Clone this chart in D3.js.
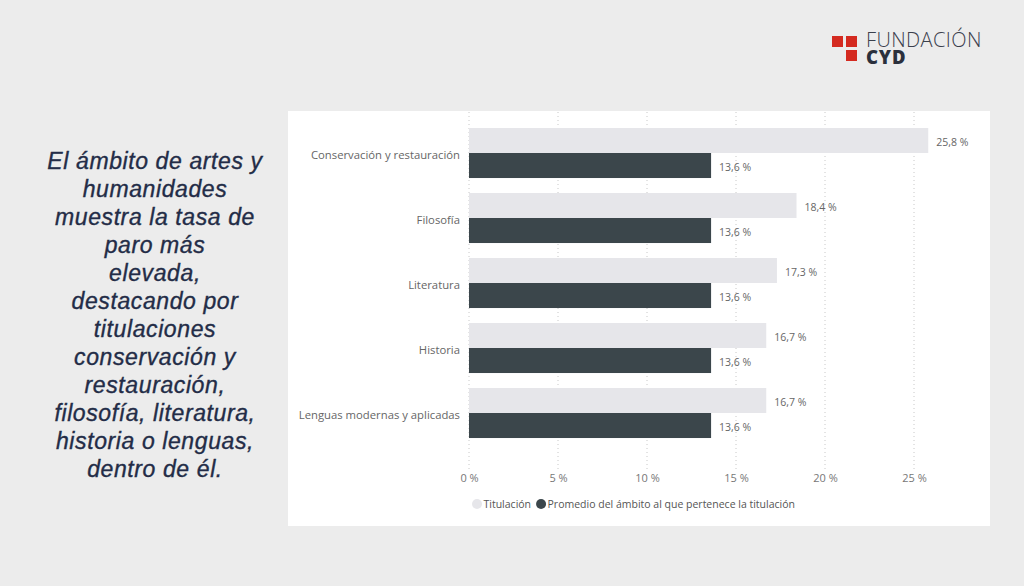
<!DOCTYPE html>
<html>
<head>
<meta charset="utf-8">
<script src="https://cdn.jsdelivr.net/npm/d3@7"></script>
<style>
  body{margin:0;background:#ececec;}
  svg{display:block;}
</style>
</head>
<body>
<div id="chart"></div>
<script>
// datos
const categorias = ['Conservación y restauración','Filosofía','Literatura','Historia','Lenguas modernas y aplicadas']
const titulacion = [25.8, 18.4, 17.3, 16.7, 16.7]
const promedio = [13.6, 13.6, 13.6, 13.6, 13.6]
const series = ['Titulación','Promedio del ámbito al que pertenece la titulación']
const ticks = [0, 5, 10, 15, 20, 25]
const textoLineas = ['El ámbito de artes y','humanidades','muestra la tasa de','paro más','elevada,','destacando por','titulaciones','conservación y','restauración,','filosofía, literatura,','historia o lenguas,','dentro de él.']

const W = 1024, H = 586
const colores = ['#e6e6ea', '#3b464b']
const fmt = v => v.toFixed(1).replace('.', ',') + ' %'

const svg = d3.select('#chart').append('svg').attr('width', W).attr('height', H)
svg.append('rect').attr('width', W).attr('height', H).attr('fill', '#ececec')

// panel blanco
svg.append('rect').attr('x', 288).attr('y', 111).attr('width', 702).attr('height', 415).attr('fill', '#fff')

// texto de la izquierda
svg.append('g').selectAll('text').data(textoLineas).join('text')
    .attr('x', 155).attr('y', (d, i) => 169 + i * 28)
    .attr('text-anchor', 'middle')
    .attr('font-family', '"Liberation Sans", Arial, sans-serif')
    .attr('font-style', 'italic')
    .attr('font-size', 23)
    .attr('letter-spacing', 0.6)
    .attr('fill', '#232c47')
    .attr('stroke', '#232c47').attr('stroke-width', 0.35)
    .text(d => d)

// logo
const logo = svg.append('g')
logo.selectAll('rect').data([[832,36],[846,36],[846,50]]).join('rect')
    .attr('x', d => d[0]).attr('y', d => d[1]).attr('width', 11).attr('height', 11).attr('fill', '#d42a20')
logo.append('text').attr('x', 866).attr('y', 47).text('FUNDACIÓN')
    .attr('font-family', '"Open Sans", sans-serif').attr('font-weight', 300).attr('font-size', 20).attr('letter-spacing', 0.4).attr('fill', '#3b404c')
logo.append('text').attr('x', 866).attr('y', 64).text('CYD')
    .attr('font-family', '"Open Sans", sans-serif').attr('font-weight', 800).attr('font-size', 18.5).attr('letter-spacing', 0.8).attr('fill', '#2b303c')

// escalas
const x = d3.scaleLinear().domain([0, 25]).range([469, 914])
const y = d3.scaleBand().domain(categorias).range([120.5, 445.5]).paddingInner(0.23).paddingOuter(0.115)
const ySub = d3.scaleBand().domain(series).range([0, y.bandwidth()])

const g = svg.append('g')

// rejilla
g.selectAll('line.grid').data(ticks).join('line')
    .attr('class', 'grid')
    .attr('x1', d => x(d)).attr('x2', d => x(d))
    .attr('y1', 112).attr('y2', 470)
    .attr('stroke', '#c8c8c8').attr('stroke-width', 1).attr('stroke-dasharray', '1,3')

// eje x
const xAxis = d3.axisBottom(x).tickValues(ticks).tickSize(0).tickFormat(d => d + ' %')
const ax = g.append('g').attr('transform', 'translate(0,471)').call(xAxis)
ax.select('.domain').remove()
ax.selectAll('text').attr('font-family', '"Open Sans", sans-serif').attr('font-size', 11).attr('fill', '#777').attr('dy', '0.71em')

// eje y
const yAxis = d3.axisLeft(y).tickSize(0).tickPadding(9)
const ay = g.append('g').attr('transform', 'translate(469,2)').call(yAxis)
ay.select('.domain').remove()
ay.selectAll('text').attr('font-family', '"Open Sans", sans-serif').attr('font-size', 11.3).attr('fill', '#666')

// barras
const datos = categorias.map((c, i) => ({ c, vals: [titulacion[i], promedio[i]] }))
const grupos = g.selectAll('g.cat').data(datos).join('g')
    .attr('class', 'cat')
    .attr('transform', d => `translate(0,${y(d.c)})`)

grupos.selectAll('rect').data(d => d.vals.map((v, j) => ({ v, s: series[j], j }))).join('rect')
    .attr('x', x(0))
    .attr('y', d => ySub(d.s))
    .attr('width', d => x(d.v) - x(0))
    .attr('height', ySub.bandwidth())
    .attr('fill', d => colores[d.j])

grupos.selectAll('text.val').data(d => d.vals.map((v, j) => ({ v, s: series[j] }))).join('text')
    .attr('class', 'val')
    .attr('x', d => x(d.v) + 8)
    .attr('y', d => ySub(d.s) + ySub.bandwidth() / 2 + 2)
    .attr('dy', '0.35em')
    .attr('font-family', '"Open Sans", sans-serif').attr('font-size', 10.5).attr('fill', '#666')
    .text(d => fmt(d.v))

// leyenda
const ley = g.append('g').attr('transform', 'translate(477,504)')
let lx = 0
series.forEach((s, i) => {
  const it = ley.append('g').attr('transform', `translate(${lx},0)`)
  it.append('circle').attr('cx', 0).attr('cy', 0).attr('r', 5).attr('fill', colores[i])
  const t = it.append('text').attr('x', 6.5).attr('y', 0).attr('dy', '0.35em')
      .attr('font-family', '"Open Sans", sans-serif').attr('font-size', 10.5).attr('fill', '#555').text(s)
  lx += 6.5 + t.node().getComputedTextLength() + 10
})
</script>
</body>
</html>
